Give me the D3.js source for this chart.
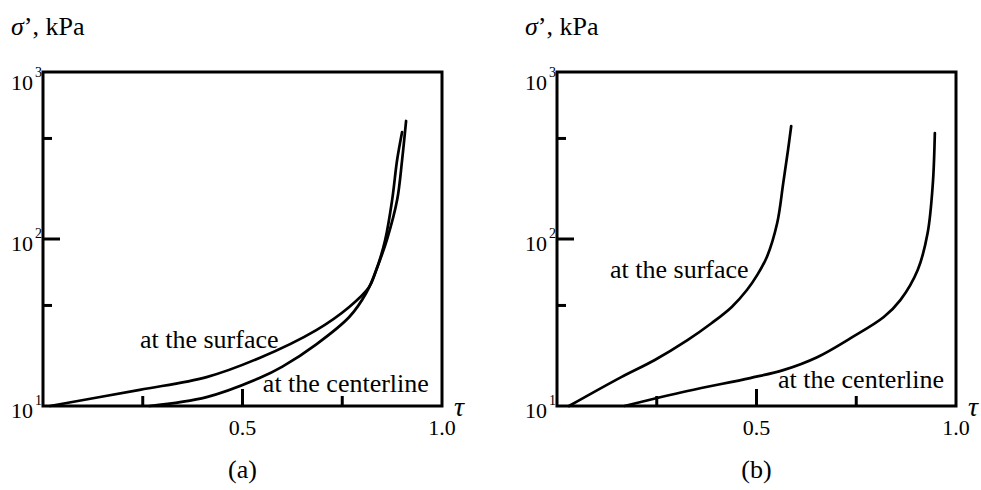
<!DOCTYPE html>
<html lang="en">
<meta charset="utf-8">
<script src="https://cdn.jsdelivr.net/npm/d3@7/dist/d3.min.js"></script>
<style>
  body { margin: 0; background: #fff; }
  svg text { font-family: "Liberation Serif", "Times New Roman", Times, serif; fill: #000; }
</style>
<body>
<script>
// curves: [tau, sigma' (kPa)]
var surfaceA = [[0.0175, 10], [0.2425, 12.5], [0.41, 14.9], [0.5425, 19.4], [0.685, 28.5],
  [0.7675, 39.2], [0.8175, 51.6], [0.835, 65], [0.8625, 100], [0.8875, 171], [0.90, 297], [0.91, 509]];
var centerA = [[0.2675, 10], [0.41, 11.3], [0.5425, 14.7], [0.60, 17.2], [0.685, 23.4], [0.7675, 34.1],
  [0.81, 47.5], [0.835, 65], [0.8575, 98.6], [0.875, 171], [0.8875, 297], [0.90, 437]];
var surfaceB = [[0.03, 10], [0.161, 14.9], [0.244, 18.8], [0.327, 24.8], [0.388, 31.4], [0.438, 39.2],
  [0.476, 49.5], [0.502, 61], [0.526, 78], [0.552, 125], [0.567, 216], [0.579, 341], [0.587, 475]];
var centerB = [[0.169, 10], [0.327, 12.3], [0.484, 14.7], [0.567, 16.4], [0.652, 19.6], [0.736, 25.5],
  [0.819, 34.1], [0.861, 43.2], [0.904, 65.2], [0.929, 109], [0.942, 216], [0.947, 431]];

var xTicksMinor = [0.25, 0.75];
var xTicksMajor = [0.5];
var xLabels = [0.5, 1.0];
var yTicksMinor = [40, 400];
var yTicksMajor = [100];
var yLabelExp = [1, 2, 3];

var width = 399, height = 334;
var serif = "'Liberation Serif', 'Times New Roman', Times, serif";

var svg = d3.select("body").append("svg")
    .attr("width", 981)
    .attr("height", 490);

var x = d3.scaleLinear().domain([0, 1]).range([0, width]);
var y = d3.scaleLog().domain([10, 1000]).range([height, 0]);

var line = d3.line()
    .x(function(d){ return x(d[0]); })
    .y(function(d){ return y(d[1]); })
    .curve(d3.curveCatmullRom.alpha(0.5));

function label(g, px, py, size, txt) {
    return g.append("text")
        .attr("x", px).attr("y", py)
        .attr("font-family", serif)
        .attr("font-size", size)
        .text(txt);
}

function drawPanel(left, name, surface, center, labels) {
    var g = svg.append("g").attr("transform", "translate(" + left + ",72)");

    // curves
    [surface, center].forEach(function(c){
        g.append("path")
            .attr("d", line(c))
            .attr("fill", "none")
            .attr("stroke", "#000")
            .attr("stroke-width", 2.7)
            .attr("stroke-linecap", "round");
    });

    // frame
    g.append("rect")
        .attr("width", width).attr("height", height)
        .attr("fill", "none").attr("stroke", "#000").attr("stroke-width", 3);

    // inward ticks on the bottom
    g.selectAll(".xt").data(xTicksMinor.map(function(v){ return [v, 10]; })
            .concat(xTicksMajor.map(function(v){ return [v, 17]; })))
        .enter().append("line")
        .attr("x1", function(d){ return x(d[0]); })
        .attr("x2", function(d){ return x(d[0]); })
        .attr("y1", height).attr("y2", function(d){ return height - d[1]; })
        .attr("stroke", "#000").attr("stroke-width", 3);

    // inward ticks on the left
    g.selectAll(".yt").data(yTicksMinor.map(function(v){ return [v, 9]; })
            .concat(yTicksMajor.map(function(v){ return [v, 17]; })))
        .enter().append("line")
        .attr("y1", function(d){ return y(d[0]); })
        .attr("y2", function(d){ return y(d[0]); })
        .attr("x1", 0).attr("x2", function(d){ return d[1]; })
        .attr("stroke", "#000").attr("stroke-width", 3);

    // x labels
    xLabels.forEach(function(v){
        label(g, x(v), height + 29, 22, d3.format(".1f")(v))
            .attr("text-anchor", "middle");
    });

    // y labels 10^n
    yLabelExp.forEach(function(e){
        var base = y(Math.pow(10, e)) + (e === 3 ? 18 : 12);
        label(g, -10, base, 22, "10").attr("text-anchor", "end");
        label(g, -8, base - 13, 14, e);
    });

    // axis titles
    var t = label(g, -32, -37, 26, "");
    t.append("tspan").attr("font-style", "italic").text("σ");
    t.append("tspan").text("’, kPa");

    label(g, width + 12, height + 10, 28, "τ").attr("font-style", "italic");

    label(g, x(0.5), height + 72, 26, name).attr("text-anchor", "middle");

    // curve labels
    labels.forEach(function(l){
        label(g, x(l[1]), y(l[2]), 26, l[0]);
    });
}

drawPanel(43, "(a)", surfaceA, centerA,
    [["at the surface", 0.243, 22.2], ["at the centerline", 0.551, 12.1]]);
drawPanel(557, "(b)", surfaceB, centerB,
    [["at the surface", 0.133, 58.3], ["at the centerline", 0.554, 12.8]]);
</script>
</body>
</html>
